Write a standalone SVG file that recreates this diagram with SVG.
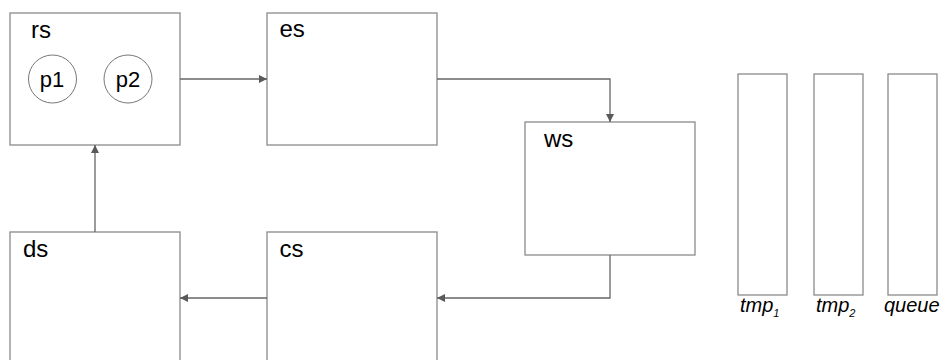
<svg xmlns="http://www.w3.org/2000/svg" width="944" height="360" viewBox="0 0 944 360">
<style>
.box{fill:#fff;stroke:#8a8a8a;stroke-width:1.3}
.lbl{font-family:"Liberation Sans",Arial,sans-serif;font-size:24px;fill:#000}
.pl{font-family:"Liberation Sans",Arial,sans-serif;font-size:22px;fill:#000}
.it{font-family:"Liberation Sans",Arial,sans-serif;font-size:20px;font-style:italic;fill:#000}
.sub{font-size:11px}
.con{fill:none;stroke:#666;stroke-width:1.3}
</style>
<defs>
<marker id="arr" viewBox="0 0 10 10" refX="10" refY="5" markerWidth="10" markerHeight="8" markerUnits="userSpaceOnUse" orient="auto">
<path d="M0,0 L10,5 L0,10 z" fill="#595959"/>
</marker>
</defs>
<g id="rs">
<rect class="box" x="10" y="13" width="170" height="132"/>
<text class="lbl" x="31" y="38">rs</text>
<circle cx="52.5" cy="79" r="24" fill="#fff" stroke="#777" stroke-width="1"/>
<text class="pl" x="52" y="87" text-anchor="middle">p1</text>
<circle cx="128" cy="79" r="24" fill="#fff" stroke="#777" stroke-width="1"/>
<text class="pl" x="128" y="87" text-anchor="middle">p2</text>
</g>
<g id="es">
<rect class="box" x="267" y="13" width="170" height="132"/>
<text class="lbl" x="279.5" y="37">es</text>
</g>
<g id="ws">
<rect class="box" x="525" y="122" width="170" height="133"/>
<text class="lbl" x="544" y="147">ws</text>
</g>
<g id="ds">
<rect class="box" x="10" y="232" width="170" height="140"/>
<text class="lbl" x="23" y="257">ds</text>
</g>
<g id="cs">
<rect class="box" x="267" y="232" width="170" height="140"/>
<text class="lbl" x="279.5" y="257">cs</text>
</g>
<g id="tmp1">
<rect class="box" x="738" y="74" width="49" height="221"/>
<text class="it" x="740" y="312">tmp<tspan class="sub" dy="5">1</tspan></text>
</g>
<g id="tmp2">
<rect class="box" x="814" y="74" width="49" height="221"/>
<text class="it" x="816" y="312">tmp<tspan class="sub" dy="5">2</tspan></text>
</g>
<g id="queue">
<rect class="box" x="888" y="74" width="49" height="221"/>
<text class="it" x="884" y="312">queue</text>
</g>
<g id="connectors">
<path class="con" d="M180,79 H267" marker-end="url(#arr)"/>
<path class="con" d="M437,79 H610 V122" marker-end="url(#arr)"/>
<path class="con" d="M610,255 V298 H437" marker-end="url(#arr)"/>
<path class="con" d="M267,298 H180" marker-end="url(#arr)"/>
<path class="con" d="M95,232 V145" marker-end="url(#arr)"/>
</g>
</svg>
